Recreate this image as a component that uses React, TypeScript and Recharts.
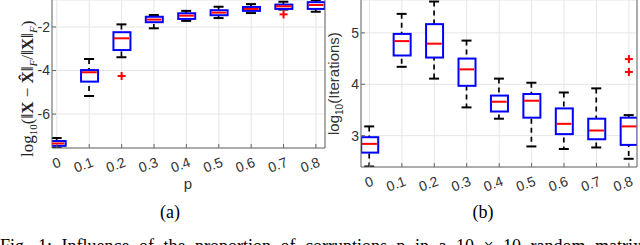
import React from 'react'
import { ComposedChart, Bar, Scatter, XAxis, YAxis, CartesianGrid } from 'recharts'

// proportion of corruptions
const pValues = [0, 0.1, 0.2, 0.3, 0.4, 0.5, 0.6, 0.7, 0.8]

// (a) log10 relative error
const errMin = [-7.55, -5.17, -3.39, -2.06, -1.72, -1.59, -1.36, -1.2, -1.3]
const errQ1 = [-7.46, -4.51, -3.06, -1.78, -1.63, -1.46, -1.26, -1.17, -1.17]
const errMed = [-7.35, -4.08, -2.52, -1.66, -1.48, -1.34, -1.17, -1.05, -0.99]
const errQ3 = [-7.24, -3.98, -2.24, -1.53, -1.37, -1.23, -1.08, -0.97, -0.86]
const errMax = [-7.1, -3.47, -1.88, -1.45, -1.26, -1.07, -0.95, -0.84, -0.76]
const errOutliers = [
  { p: 0.2, v: -4.25 },
  { p: 0.7, v: -1.42 },
]
const errTicks = [-6, -4, -2]

// (b) log10 iterations
const iterMin = [2.4, 4.34, 4.11, 3.55, 3.33, 2.79, 2.74, 2.77, 2.55]
const iterQ1 = [2.67, 4.56, 4.52, 3.97, 3.47, 3.35, 3.03, 2.93, 2.82]
const iterMed = [2.84, 4.84, 4.79, 4.29, 3.66, 3.68, 3.23, 3.1, 3.18]
const iterQ3 = [2.97, 4.98, 5.17, 4.5, 3.78, 3.81, 3.53, 3.33, 3.35]
const iterMax = [3.18, 5.37, 5.61, 4.85, 4.11, 4.03, 3.84, 3.92, 3.4]
const iterOutliers = [
  { p: 0.8, v: 4.49 },
  { p: 0.8, v: 4.24 },
]
const iterTicks = [3, 4, 5]

const BOX_W = 17
const CAP_W = 10
const AXIS = '#666'
const GRID = '#e6e6e6'
const TICK_FILL = '#333'
const SANS = '"Liberation Sans", Arial, sans-serif'
const SERIF = '"Liberation Serif", "Times New Roman", serif'

function toRows(mins: number[], q1: number[], med: number[], q3: number[], maxs: number[]) {
  return pValues.map((p, i) => ({ p, lo: mins[i], q1: q1[i], med: med[i], q3: q3[i], hi: maxs[i] }))
}

const WhiskerShape = (props: any) => {
  const { x, y, width, height } = props
  const cx = x + width / 2
  return (
    <g>
      <line x1={cx} x2={cx} y1={y} y2={y + height} stroke="#000" strokeWidth={1.7} strokeDasharray="5 4" />
      <line x1={x} x2={x + width} y1={y} y2={y} stroke="#000" strokeWidth={2} />
      <line x1={x} x2={x + width} y1={y + height} y2={y + height} stroke="#000" strokeWidth={2} />
    </g>
  )
}

const BoxShape = (props: any) => {
  const { x, y, width, height } = props
  return <rect x={x} y={y} width={width} height={Math.max(height, 0.5)} fill="#fff" stroke="#0000ff" strokeWidth={2} />
}

const MedianShape = (props: any) => {
  const { cx, cy } = props
  return <line x1={cx - BOX_W / 2 + 1} x2={cx + BOX_W / 2 - 1} y1={cy} y2={cy} stroke="#ff0000" strokeWidth={2} />
}

const PlusShape = (props: any) => {
  const { cx, cy } = props
  return (
    <g stroke="#ff0000" strokeWidth={2}>
      <line x1={cx - 4} x2={cx + 4} y1={cy} y2={cy} />
      <line x1={cx} x2={cx} y1={cy - 4} y2={cy + 4} />
    </g>
  )
}

const XTick = (props: any) => {
  const { x, y, payload } = props
  const tx = x + 5
  const ty = y + 18
  return (
    <text x={tx} y={ty} transform={`rotate(-20, ${tx}, ${ty})`} textAnchor="end" fontSize={14} fill={TICK_FILL} fontFamily={SANS}>
      {String(payload.value)}
    </text>
  )
}

interface BoxChartProps {
  width: number
  height: number
  leftW: number
  rightW: number
  xAxisH: number
  xDomain: [number, number]
  yDomain: [number, number]
  yTicks: number[]
  rows: ReturnType<typeof toRows>
  outliers: { p: number; v: number }[]
}

function BoxChart({ width, height, leftW, rightW, xAxisH, xDomain, yDomain, yTicks, rows, outliers }: BoxChartProps) {
  return (
    <ComposedChart width={width} height={height} data={rows} margin={{ top: 0, right: 0, bottom: 0, left: 0 }}>
      <CartesianGrid stroke={GRID} strokeWidth={1} />
      <XAxis
        type="number"
        dataKey="p"
        domain={xDomain}
        ticks={pValues}
        allowDataOverflow
        height={xAxisH}
        tickSize={-4}
        tickMargin={4}
        tick={<XTick />}
        interval={0}
        stroke={AXIS}
        tickLine={{ stroke: AXIS }}
      />
      <XAxis xAxisId="w" type="number" dataKey="p" domain={xDomain} ticks={pValues} allowDataOverflow hide />
      <XAxis xAxisId="b" type="number" dataKey="p" domain={xDomain} ticks={pValues} allowDataOverflow hide />
      <YAxis
        type="number"
        domain={yDomain}
        ticks={yTicks}
        allowDataOverflow
        width={leftW}
        tickSize={-4}
        tickMargin={6}
        interval={0}
        stroke={AXIS}
        tick={{ fontSize: 14, fill: TICK_FILL, fontFamily: SANS }}
        tickLine={{ stroke: AXIS }}
      />
      <YAxis
        yAxisId="r"
        orientation="right"
        type="number"
        domain={yDomain}
        ticks={yTicks}
        allowDataOverflow
        width={rightW}
        tickSize={-4}
        tick={false}
        stroke={AXIS}
        tickLine={{ stroke: AXIS }}
      />
      <Bar xAxisId="w" dataKey={(d: any) => [d.lo, d.hi]} barSize={CAP_W} shape={<WhiskerShape />} isAnimationActive={false} />
      <Bar xAxisId="b" dataKey={(d: any) => [d.q1, d.q3]} barSize={BOX_W} shape={<BoxShape />} isAnimationActive={false} />
      <Scatter dataKey="med" shape={<MedianShape />} isAnimationActive={false} />
      <Scatter data={outliers} dataKey="v" shape={<PlusShape />} isAnimationActive={false} />
    </ComposedChart>
  )
}

export default function App() {
  const errRows = toRows(errMin, errQ1, errMed, errQ3, errMax)
  const iterRows = toRows(iterMin, iterQ1, iterMed, iterQ3, iterMax)
  return (
    <div style={{ position: 'absolute', left: 0, top: 0, width: 640, height: 245, overflow: 'hidden', background: '#fff' }}>
      <div style={{ position: 'absolute', left: 0, top: 0 }}>
        <BoxChart
          width={330}
          height={200}
          leftW={52}
          rightW={5}
          xAxisH={52}
          xDomain={[-0.015, 0.828]}
          yDomain={[-7.56, -0.76]}
          yTicks={errTicks}
          rows={errRows}
          outliers={errOutliers}
        />
      </div>
      <div style={{ position: 'absolute', left: 310, top: 0 }}>
        <BoxChart
          width={330}
          height={210}
          leftW={51}
          rightW={3}
          xAxisH={43}
          xDomain={[-0.026, 0.825]}
          yDomain={[2.39, 5.64]}
          yTicks={iterTicks}
          rows={iterRows}
          outliers={iterOutliers}
        />
      </div>
      <svg width={640} height={260} style={{ position: 'absolute', left: 0, top: 0, pointerEvents: 'none' }}>
        <text x={33} y={157} transform="rotate(-90, 33, 157)" fontFamily={SERIF} fontSize={17} fill="#222">
          log<tspan dy={4} fontSize={11}>10</tspan>
          <tspan dy={-4}>(‖</tspan>
          <tspan fontWeight="bold">X</tspan>
          <tspan> − </tspan>
          <tspan fontWeight="bold">X̂</tspan>
          <tspan>‖</tspan>
          <tspan dy={4} fontSize={11} fontStyle="italic">F</tspan>
          <tspan dy={-4}>/‖</tspan>
          <tspan fontWeight="bold">X</tspan>
          <tspan>‖</tspan>
          <tspan dy={4} fontSize={11} fontStyle="italic">F</tspan>
          <tspan dy={-4}>)</tspan>
        </text>
        <text x={339} y={135} transform="rotate(-90, 339, 135)" fontFamily={SANS} fontSize={15} fill="#333">
          log<tspan dy={4} fontSize={10}>10</tspan>
          <tspan dy={-4}>(Iterations)</tspan>
        </text>
        <text x={188} y={189} textAnchor="middle" fontFamily={SANS} fontSize={15} fill="#333">
          p
        </text>
        <text x={170} y={218} textAnchor="middle" fontFamily={SERIF} fontSize={18} fill="#000">
          (a)
        </text>
        <text x={483} y={218} textAnchor="middle" fontFamily={SERIF} fontSize={18} fill="#000">
          (b)
        </text>
        <text x={0} y={252} fontFamily={SERIF} fontSize={18} fill="#000" wordSpacing={5}>
          Fig. 1:  Influence of the proportion of corruptions p in a 10 × 10 random matrix
        </text>
      </svg>
    </div>
  )
}
